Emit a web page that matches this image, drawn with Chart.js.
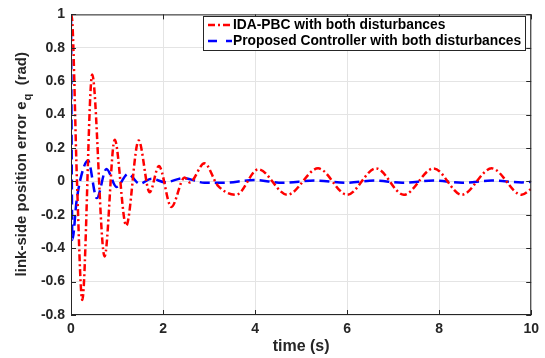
<!DOCTYPE html>
<html>
<head>
<meta charset="utf-8">
<script src="https://cdn.jsdelivr.net/npm/chart.js@4.4.1/dist/chart.umd.min.js"></script>
<style>
html, body { margin: 0; padding: 0; background: #fff; }
</style>
</head>
<body>
<canvas id="chart" width="545" height="358"></canvas>
<script>
// IDA-PBC (red, dash-dot)
const idaTime = [0, 0.03, 0.13, 0.245, 0.46, 0.73, 0.95, 1.2, 1.47, 1.71, 1.91, 2.18, 2.47, 2.58, 2.9, 3.19, 3.59, 4.07, 4.7, 5.37, 6.0, 6.63, 7.23, 7.88, 8.49, 9.14, 9.79, 10];
const idaErr  = [1, 0.95, 0.0, -0.71, 0.64, -0.45, 0.25, -0.265, 0.245, -0.065, 0.092, -0.153, 0.024, -0.006, 0.108, -0.025, -0.08, 0.072, -0.08, 0.078, -0.08, 0.078, -0.08, 0.078, -0.08, 0.078, -0.08, -0.045];

// proposed controller (blue, dashed)
const propTime = [0, 0.03, 0.12, 0.22, 0.37, 0.56, 0.77, 0.99, 1.24, 1.49, 1.75, 2.05, 2.45, 2.9, 3.3, 3.98, 4.6, 5.3, 5.98, 6.6, 7.2, 7.88, 8.5, 9.14, 9.8, 10];
const propErr  = [1, -0.35, -0.12, 0.03, 0.125, -0.1, 0.075, -0.033, 0.045, -0.014, 0.016, -0.005, 0.02, -0.008, -0.008, 0.008, -0.008, 0.005, -0.008, 0.005, -0.008, 0.005, -0.008, 0.005, -0.006, -0.002];

const xTicks = [0, 2, 4, 6, 8, 10];
const yTicks = [-0.8, -0.6, -0.4, -0.2, 0, 0.2, 0.4, 0.6, 0.8, 1];
const seriesNames = ['IDA-PBC with both disturbances', 'Proposed Controller with both disturbances'];

const FONT = "'Liberation Sans', Arial, sans-serif";
const AXIS = '#262626';

const toPoints = (ts, vs) => ts.map((t, i) => ({ x: t, y: vs[i] }));

const redDash = [7, 3, 2, 3];
const blueDash = [10, 5];

const framePlugin = {
    id: 'frame',
    afterDatasetsDraw(chart) {
        const { ctx, chartArea: a, scales: { x, y } } = chart;
        ctx.save();
        ctx.strokeStyle = AXIS;
        ctx.lineWidth = 1;
        ctx.strokeRect(a.left + 0.5, a.top + 0.5, a.width - 1, a.height - 1);

        // inward tick marks on all four sides
        ctx.beginPath();
        xTicks.forEach(v => {
            const px = Math.round(x.getPixelForValue(v)) + 0.5;
            ctx.moveTo(px, a.bottom); ctx.lineTo(px, a.bottom - 5);
            ctx.moveTo(px, a.top); ctx.lineTo(px, a.top + 5);
        });
        yTicks.forEach(v => {
            const py = Math.round(y.getPixelForValue(v)) + 0.5;
            ctx.moveTo(a.left, py); ctx.lineTo(a.left + 5, py);
            ctx.moveTo(a.right, py); ctx.lineTo(a.right - 5, py);
        });
        ctx.stroke();

        // y axis title with subscript q
        ctx.translate(22, (a.top + a.bottom) / 2);
        ctx.rotate(-Math.PI / 2);
        ctx.fillStyle = AXIS;
        ctx.textBaseline = 'middle';
        const main = 'link-side position error e';
        const sub = 'q';
        const tail = '  (rad)';
        ctx.font = 'bold 15px ' + FONT;
        const w1 = ctx.measureText(main).width;
        const w3 = ctx.measureText(tail).width;
        ctx.font = 'bold 11px ' + FONT;
        const w2 = ctx.measureText(sub).width;
        let sx = -(w1 + w2 + w3) / 2;
        ctx.font = 'bold 15px ' + FONT;
        ctx.fillText(main, sx, 0);
        ctx.font = 'bold 11px ' + FONT;
        ctx.fillText(sub, sx + w1 + 1, 6);
        ctx.font = 'bold 15px ' + FONT;
        ctx.fillText(tail, sx + w1 + w2 + 1, 0);
        ctx.restore();
    },
    afterDraw(chart) {
        const { ctx } = chart;
        const bx = 203, by = 16, bw = 322, bh = 34;
        ctx.save();
        ctx.fillStyle = '#fff';
        ctx.fillRect(bx, by, bw, bh);
        ctx.strokeStyle = AXIS;
        ctx.lineWidth = 1;
        ctx.strokeRect(bx + 0.5, by + 0.5, bw, bh);

        const rows = [
            { color: '#ff0000', dash: redDash, y: by + 9 },
            { color: '#0000ff', dash: [9, 9], y: by + 25 }
        ];
        ctx.font = 'bold 13.8px ' + FONT;
        ctx.textBaseline = 'middle';
        rows.forEach((r, i) => {
            ctx.strokeStyle = r.color;
            ctx.lineWidth = 2.5;
            ctx.setLineDash(r.dash);
            ctx.beginPath();
            ctx.moveTo(bx + 5, r.y);
            ctx.lineTo(bx + 29, r.y);
            ctx.stroke();
            ctx.setLineDash([]);
            ctx.fillStyle = '#000';
            ctx.fillText(seriesNames[i], bx + 30, r.y + 0.5);
        });
        ctx.restore();
    }
};

const chart = new Chart(document.getElementById('chart'), {
    type: 'line',
    data: {
        datasets: [{
            label: seriesNames[0],
            data: toPoints(idaTime, idaErr),
            borderColor: '#ff0000',
            borderWidth: 2.5,
            borderDash: redDash,
            pointRadius: 0,
            fill: false,
            cubicInterpolationMode: 'monotone',
        }, {
            label: seriesNames[1],
            data: toPoints(propTime, propErr),
            borderColor: '#0000ff',
            borderWidth: 2.5,
            borderDash: blueDash,
            pointRadius: 0,
            fill: false,
            cubicInterpolationMode: 'monotone',
        }]
    },
    options: {
        responsive: false,
        animation: false,
        layout: { padding: { top: 10, right: 12, left: 0, bottom: 0 } },
        plugins: {
            legend: { display: false },
            tooltip: { enabled: false },
        },
        scales: {
            x: {
                type: 'linear',
                min: 0,
                max: 10,
                afterBuildTicks: s => { s.ticks = xTicks.map(v => ({ value: v })); },
                afterFit: s => { s.height = 43; },
                grid: { color: '#e4e4e4', drawTicks: false },
                border: { display: false },
                ticks: {
                    padding: 6,
                    color: AXIS,
                    font: { family: FONT, size: 14, weight: 'bold' },
                    maxRotation: 0,
                },
                title: {
                    display: true,
                    text: 'time (s)',
                    color: AXIS,
                    font: { family: FONT, size: 16, weight: 'bold' },
                    padding: { top: 0, bottom: 2 },
                },
            },
            y: {
                min: -0.8,
                max: 1,
                afterBuildTicks: s => { s.ticks = yTicks.map(v => ({ value: v })); },
                afterFit: s => { s.width = 71; },
                grid: { color: '#e4e4e4', drawTicks: false },
                border: { display: false },
                ticks: {
                    padding: 6,
                    color: AXIS,
                    font: { family: FONT, size: 14, weight: 'bold' },
                    callback: v => String(+v.toFixed(1)),
                },
            },
        },
    },
    plugins: [framePlugin],
});
</script>
</body>
</html>
